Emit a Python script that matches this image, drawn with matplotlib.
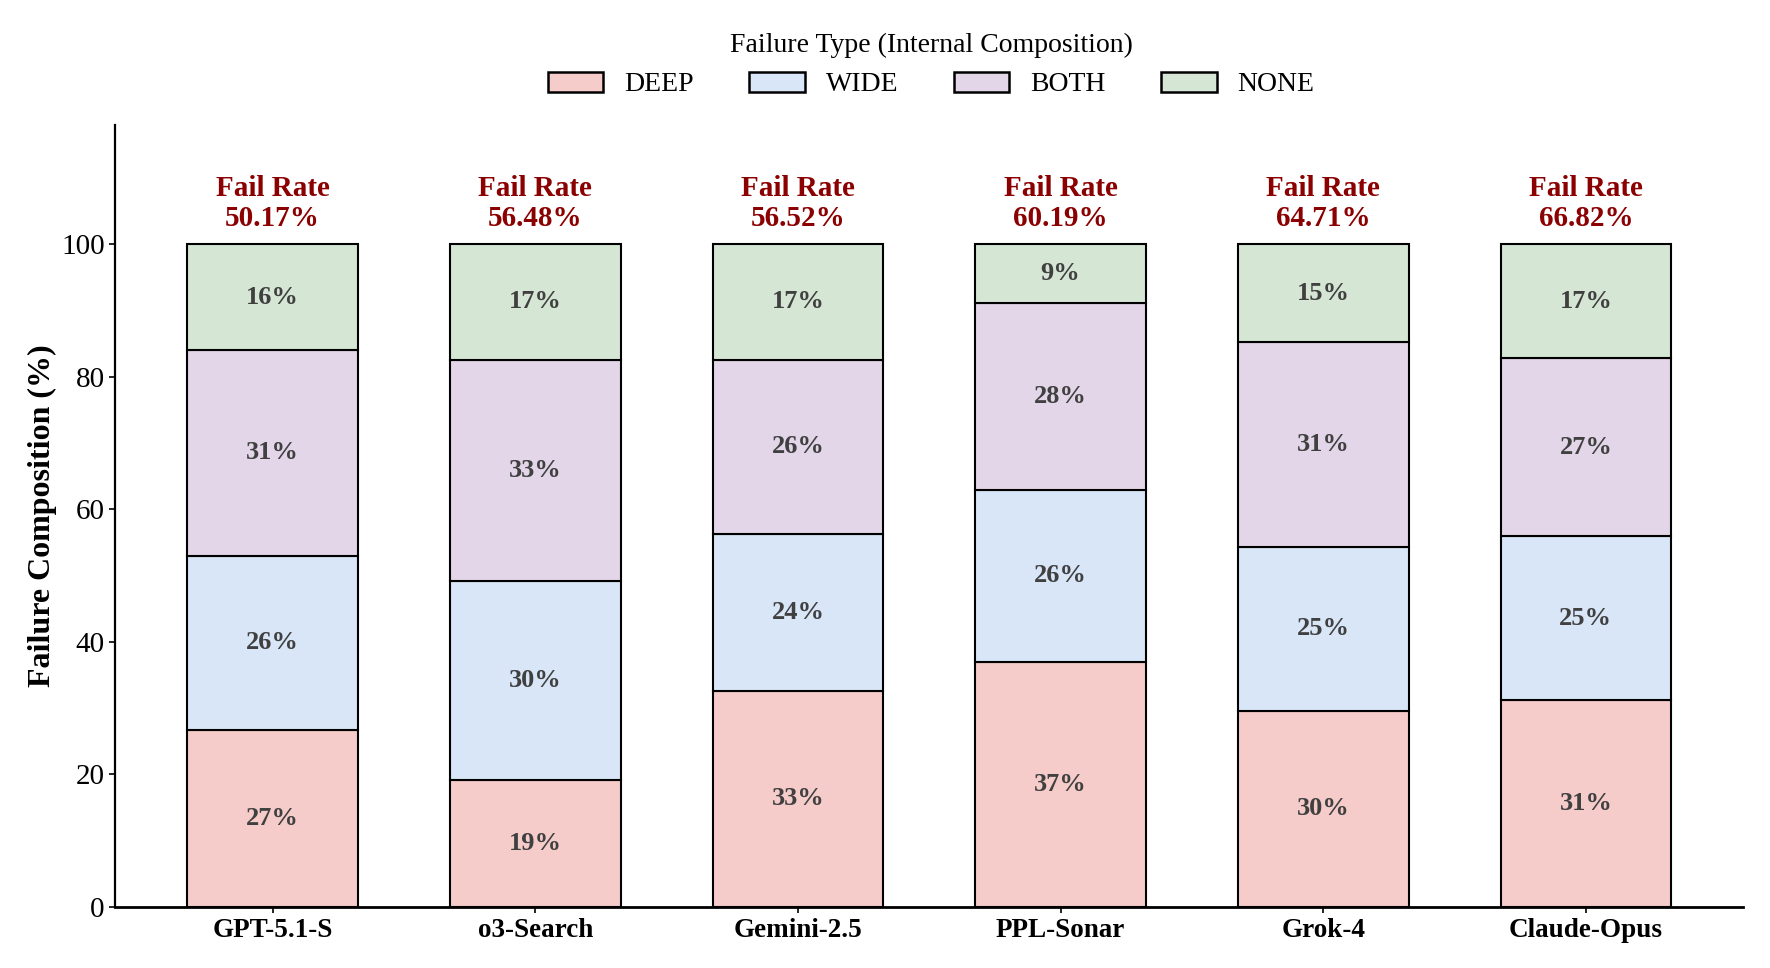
import matplotlib
matplotlib.use("Agg")
import matplotlib.pyplot as plt
import numpy as np

plt.rcParams['font.family'] = ['Liberation Serif', 'DejaVu Serif']

models = ["GPT-5.1-S", "o3-Search", "Gemini-2.5", "PPL-Sonar", "Grok-4", "Claude-Opus"]
fail_rates = [50.17, 56.48, 56.52, 60.19, 64.71, 66.82]
deep = [26.7, 19.1, 32.6, 37.0, 29.6, 31.2]
wide = [26.3, 30.1, 23.7, 25.9, 24.7, 24.7]
both = [31.0, 33.4, 26.3, 28.2, 30.9, 26.9]
none = [16.0, 17.4, 17.4, 8.9, 14.8, 17.2]

types = ["DEEP", "WIDE", "BOTH", "NONE"]
colors = ["#f6cccb", "#d8e6f8", "#e2d6e8", "#d6e6d4"]

fig = plt.figure(figsize=(17.7, 9.68), dpi=100)
ax = fig.add_axes([0.065, 0.063, 0.920, 0.808])

x = np.arange(len(models))
bottom = np.zeros(len(models))
for name, vals, col in zip(types, [deep, wide, both, none], colors):
    vals = np.array(vals)
    ax.bar(x, vals, 0.65, bottom=bottom, color=col, edgecolor="black",
           linewidth=1.5, label=name)
    for xi, b, v in zip(x, bottom, vals):
        ax.text(xi, b + v / 2, f"{v:.0f}%", ha="center", va="center",
                fontsize=19, fontweight="bold", color="#404040")
    bottom += vals

for xi, fr in zip(x, fail_rates):
    ax.text(xi, 101.9, f"Fail Rate\n{fr:.2f}%", ha="center", va="bottom",
            fontsize=21, fontweight="bold", color="#8b0000", linespacing=1.1)

ax.set_xlim(-0.6, 5.6)
ax.set_ylim(0, 118)
ax.set_yticks([0, 20, 40, 60, 80, 100])
ax.set_xticks(x)
ax.set_xticklabels(models, fontsize=19.5, fontweight="bold")
ax.tick_params(axis="y", labelsize=21, length=4, width=1.2)
ax.tick_params(axis="x", length=4, width=1.2, pad=4)
ax.set_ylabel("Failure Composition (%)", fontsize=23, fontweight="bold", labelpad=3)

for s in ["top", "right"]:
    ax.spines[s].set_visible(False)
ax.spines["left"].set_linewidth(1.6)
ax.spines["bottom"].set_linewidth(2.0)

leg = fig.legend(loc="upper center", bbox_to_anchor=(0.526, 0.992), ncol=4,
                 frameon=False, fontsize=20, title="Failure Type (Internal Composition)",
                 title_fontsize=20, handlelength=2.0, handleheight=0.72,
                 columnspacing=2.0, handletextpad=0.75)
for h in leg.legend_handles:
    h.set_linewidth(1.8)

fig.savefig("out.png", dpi=100)
